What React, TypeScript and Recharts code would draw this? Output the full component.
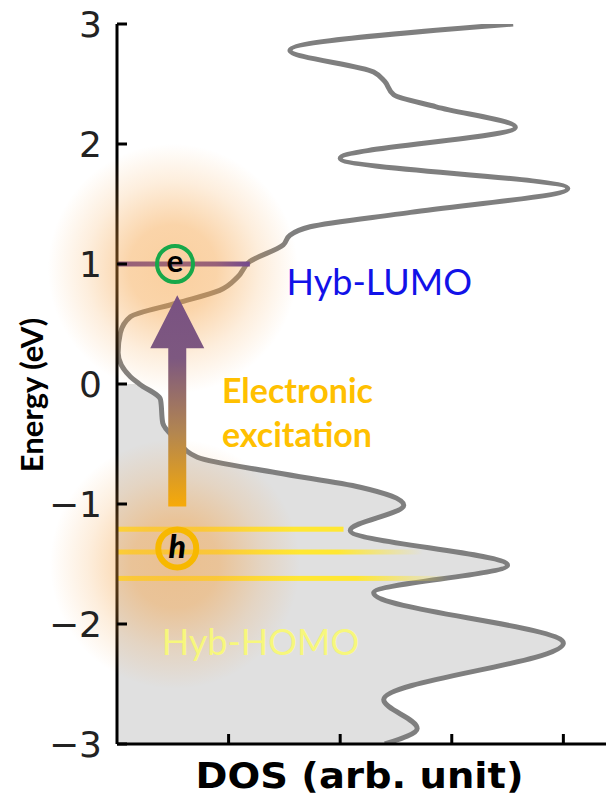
import { Area, ComposedChart, Label, Line, ReferenceDot, ReferenceLine, XAxis, YAxis } from "recharts"

// DOS curve: energy (eV) and DOS (arb. unit)
const energies = [3.0, 2.78, 2.6, 2.52, 2.41, 2.31, 2.14, 1.88, 1.63, 1.43, 1.31, 1.24, 1.16, 1.02, 0.89, 0.78, 0.675, 0.56, 0.425, 0.26, 0.06, 0, -0.13, -0.325, -0.47, -0.61, -0.74, -0.86, -1.01, -1.22, -1.51, -1.74, -2.16, -2.63, -2.87, -3.0]
const dosValues = [3.55, 1.55, 2.3, 2.4, 2.48, 2.86, 3.57, 2.0, 4.04, 2.63, 1.73, 1.55, 1.49, 1.19, 1.08, 0.92, 0.54, 0.12, 0.03, 0.01, 0.12, 0.2, 0.39, 0.41, 0.54, 0.72, 1.43, 2.18, 2.57, 2.09, 3.5, 2.3, 4.0, 2.39, 2.69, 2.4]

const energyTicks = [3, 2, 1, 0, -1, -2, -3]
const dosTicks = [1, 2, 3, 4]

// level / annotation anchors in data units
const lumoLevel = 1.0
const lumoEnd = 1.19
const homoLevels = [-1.21, -1.4, -1.62]
const homoEnds = [2.03, 2.74, 2.97]
const glowCenters = [{ x: 0.5, y: 0.96 }, { x: 0.52, y: -1.5 }]
const electron = { x: 0.52, y: 1.0 }
const hole = { x: 0.54, y: -1.37 }
const arrowFrom = { x: 0.54, y: -1.02 }
const arrowTo = { x: 0.54, y: 0.74 }

const data = energies.map((e, i) => ({
  energy: e,
  dos: dosValues[i],
  filled: e <= 0 ? dosValues[i] : null,
}))

const fmtTick = (v: number) => (v < 0 ? `\u2212${Math.abs(v)}` : `${v}`)

const LeftTick = ({ x, y, payload }: any) => (
  <g>
    <line x1={x} x2={x + 10} y1={y} y2={y} stroke="#000" strokeWidth={3} />
    <text x={x - 15} y={y + 13} textAnchor="end" fontFamily="DejaVu Sans" fontSize={36} fill="#222">
      {fmtTick(payload.value)}
    </text>
  </g>
)
const RightTick = ({ x, y }: any) => <line x1={x} x2={x - 10} y1={y} y2={y} stroke="#000" strokeWidth={3} />
const BottomTick = ({ x, y }: any) => <line x1={x} x2={x} y1={y} y2={y - 10} stroke="#000" strokeWidth={3} />
const TopTick = ({ x, y }: any) => <line x1={x} x2={x} y1={y} y2={y + 10} stroke="#000" strokeWidth={3} />

const DosLabel = ({ viewBox }: any) => (
  <text
    x={viewBox.x + viewBox.width / 2 - 3}
    y={viewBox.y + 44}
    textAnchor="middle"
    fontFamily="DejaVu Sans"
    fontWeight="bold"
    fontSize={35}
    textLength={328}
    lengthAdjust="spacingAndGlyphs"
    fill="#000"
  >
    DOS (arb. unit)
  </text>
)

const EnergyLabel = ({ viewBox }: any) => {
  const cx = viewBox.x + 31
  const cy = viewBox.y + viewBox.height / 2 + 11
  return (
    <text
      x={cx}
      y={cy}
      transform={`rotate(-90 ${cx} ${cy})`}
      textAnchor="middle"
      dominantBaseline="central"
      fontFamily="Lato"
      fontWeight="bold"
      fontSize={31}
      fill="#000"
    >
      Energy (eV)
    </text>
  )
}

const GlowShape = ({ cx, cy }: any) => <circle cx={cx} cy={cy} r={125} fill="url(#glow)" />

const ElectronShape = ({ cx, cy }: any) => (
  <g>
    <circle cx={cx} cy={cy} r={18} fill="none" stroke="#17a84a" strokeWidth={4} />
    <text x={cx} y={cy + 8} textAnchor="middle" fontFamily="Lato" fontWeight="bold" fontSize={31} fill="#000">
      e
    </text>
  </g>
)

const HoleShape = ({ cx, cy }: any) => (
  <g>
    <circle cx={cx} cy={cy} r={19} fill="none" stroke="#f7b800" strokeWidth={6} />
    <text x={cx} y={cy + 10} textAnchor="middle" fontFamily="Lato" fontWeight="900" fontStyle="italic" fontSize={32} fill="#000">
      h
    </text>
  </g>
)

const ArrowShape = ({ x1, y1, y2 }: any) => {
  const top = Math.min(y1, y2)
  const bottom = Math.max(y1, y2)
  const headH = 53
  const headW = 27
  const shaftW = 9
  const pts = [
    [x1, top],
    [x1 - headW, top + headH],
    [x1 - shaftW, top + headH],
    [x1 - shaftW, bottom],
    [x1 + shaftW, bottom],
    [x1 + shaftW, top + headH],
    [x1 + headW, top + headH],
  ]
  return (
    <g>
      <defs>
        <linearGradient id="arrowGrad" gradientUnits="userSpaceOnUse" x1={x1} y1={top} x2={x1} y2={bottom}>
          <stop offset="0%" stopColor="#7a5282" />
          <stop offset="30%" stopColor="#7d5880" />
          <stop offset="65%" stopColor="#b38650" />
          <stop offset="100%" stopColor="#f7aa08" />
        </linearGradient>
      </defs>
      <polygon points={pts.map((p) => p.join(",")).join(" ")} fill="url(#arrowGrad)" />
    </g>
  )
}

const HomoBar = ({ x1, x2, y1, fade }: any) => (
  <rect x={Math.min(x1, x2)} y={y1 - 2.5} width={Math.abs(x2 - x1)} height={5} fill={fade ? "url(#homoFade)" : "#ffe733"} />
)

const textShape = (text: string, color: string, size: number, weight: string) => ({ cx, cy }: any) => (
  <text x={cx} y={cy} fontFamily="Lato" fontWeight={weight} fontSize={size} fill={color}>
    {text}
  </text>
)

export default function App() {
  return (
    <div style={{ position: "absolute", left: 0, top: 0, width: 606, height: 797, overflow: "hidden", background: "#fff" }}>
      <ComposedChart
        width={620}
        height={797}
        data={data}
        layout="vertical"
        margin={{ top: 24, right: 12, bottom: 0, left: 0 }}
      >
        <defs>
          <radialGradient id="glow">
            <stop offset="0%" stopColor="#f5a040" stopOpacity={0.5} />
            <stop offset="35%" stopColor="#f5a040" stopOpacity={0.45} />
            <stop offset="70%" stopColor="#f5a040" stopOpacity={0.18} />
            <stop offset="100%" stopColor="#f5a040" stopOpacity={0} />
          </radialGradient>
          <linearGradient id="homoFade" x1="0" y1="0" x2="1" y2="0">
            <stop offset="0%" stopColor="#ffe733" />
            <stop offset="72%" stopColor="#ffe733" />
            <stop offset="100%" stopColor="#ffe733" stopOpacity={0} />
          </linearGradient>
        </defs>

        <XAxis
          type="number"
          domain={[0, 4.4]}
          ticks={dosTicks}
          allowDataOverflow
          height={53}
          tickSize={0}
          tickMargin={0}
          tick={<BottomTick />}
          axisLine={{ stroke: "#000", strokeWidth: 3 }}
        >
          <Label content={<DosLabel />} />
        </XAxis>
        <XAxis
          xAxisId="top"
          orientation="top"
          type="number"
          domain={[0, 4.4]}
          ticks={dosTicks}
          allowDataOverflow
          height={0}
          tickSize={0}
          tickMargin={0}
          tick={<TopTick />}
          axisLine={{ stroke: "#000", strokeWidth: 3 }}
        />
        <YAxis
          type="number"
          dataKey="energy"
          domain={[-3, 3]}
          ticks={energyTicks}
          reversed
          allowDataOverflow
          width={117}
          tickSize={0}
          tickMargin={0}
          tick={<LeftTick />}
          axisLine={{ stroke: "#000", strokeWidth: 3 }}
        >
          <Label content={<EnergyLabel />} />
        </YAxis>
        <YAxis
          yAxisId="right"
          orientation="right"
          type="number"
          dataKey="energy"
          domain={[-3, 3]}
          ticks={energyTicks}
          reversed
          allowDataOverflow
          width={0}
          tickSize={0}
          tickMargin={0}
          tick={<RightTick />}
          axisLine={{ stroke: "#000", strokeWidth: 3 }}
        />

        <Area
          dataKey="filled"
          type="monotone"
          fill="#e0e0e0"
          fillOpacity={1}
          stroke="none"
          isAnimationActive={false}
        />
        <Line
          dataKey="dos"
          type="monotone"
          stroke="#7f7f7f"
          strokeWidth={5}
          dot={false}
          isAnimationActive={false}
        />

        {homoLevels.map((lvl, i) => (
          <ReferenceLine
            key={`homo-${i}`}
            segment={[{ x: 0, y: lvl }, { x: homoEnds[i], y: lvl }]}
            shape={(p: any) => <HomoBar {...p} fade={i > 0} />}
            zIndex={450}
          />
        ))}
        <ReferenceLine
          segment={[{ x: 0, y: lumoLevel }, { x: lumoEnd, y: lumoLevel }]}
          stroke="#4a2ca6"
          strokeWidth={5}
          zIndex={450}
        />

        {glowCenters.map((g, i) => (
          <ReferenceDot key={`glow-${i}`} x={g.x} y={g.y} r={1} shape={<GlowShape />} zIndex={600} />
        ))}

        <ReferenceLine segment={[arrowFrom, arrowTo]} shape={<ArrowShape />} zIndex={700} />
        <ReferenceDot x={electron.x} y={electron.y} r={1} shape={<ElectronShape />} zIndex={700} />
        <ReferenceDot x={hole.x} y={hole.y} r={1} shape={<HoleShape />} zIndex={700} />

        <ReferenceDot x={1.52} y={0.74} r={1} shape={textShape("Hyb-LUMO", "#1212e8", 36, "normal")} zIndex={700} />
        <ReferenceDot x={0.94} y={-0.16} r={1} shape={textShape("Electronic", "#ffc000", 34, "bold")} zIndex={700} />
        <ReferenceDot x={0.94} y={-0.525} r={1} shape={textShape("excitation", "#ffc000", 34, "bold")} zIndex={700} />
        <ReferenceDot x={0.4} y={-2.26} r={1} shape={textShape("Hyb-HOMO", "#f7f77c", 36, "normal")} zIndex={700} />
      </ComposedChart>
    </div>
  )
}
